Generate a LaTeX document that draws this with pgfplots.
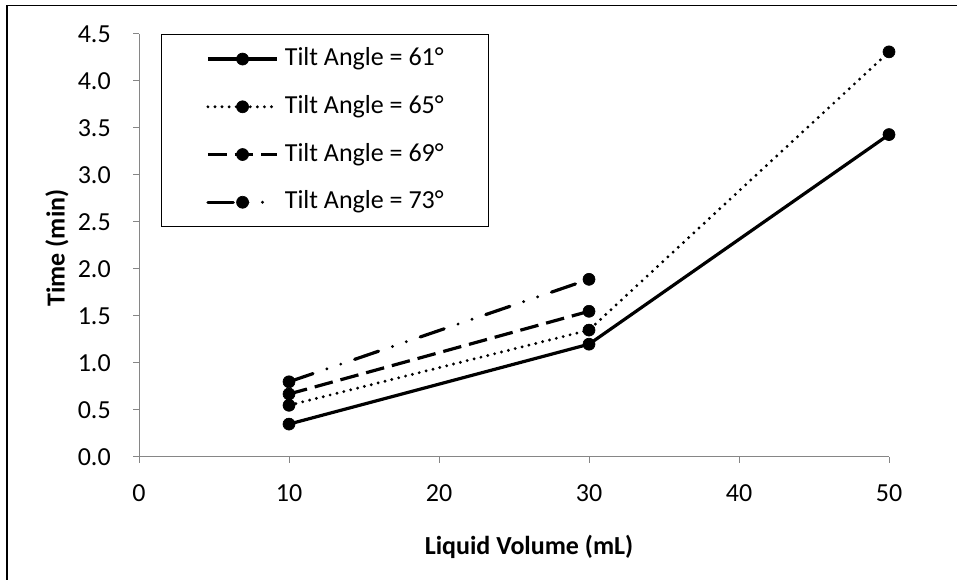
\documentclass[border=0pt]{standalone}
\usepackage{pgfplots}
\pgfplotsset{compat=1.18}
\usepackage{fontspec}
\setmainfont{Carlito}
\definecolor{axisgray}{HTML}{868686}
\newcommand{\fs}{\fontsize{19.5}{23}\selectfont}
\begin{document}
\fs
\begin{tikzpicture}[x=0.75pt,y=0.75pt]
\useasboundingbox (0,0) rectangle (957,580);
\fill[white] (0,0) rectangle (957,580);
\draw[line width=1.5pt] (7,0) -- (7,574.5);
\draw[line width=1pt] (6,574.5) -- (957,574.5);
\begin{axis}[
  at={(104.25pt,92.25pt)}, anchor=south west,
  scale only axis, width=562.5pt, height=317.25pt,
  xmin=0, xmax=50, ymin=0, ymax=4.5,
  axis x line=bottom, axis y line=left,
  axis line style={draw=axisgray, line width=0.75pt, -},
  tick style={draw=axisgray, line width=0.75pt},
  major tick length=4.5pt, tick align=outside,
  xtick={0,10,20,30,40,50},
  ytick={0,0.5,1,1.5,2,2.5,3,3.5,4,4.5},
  /pgf/number format/assume math mode=true,
  y tick label style={/pgf/number format/fixed, /pgf/number format/fixed zerofill, /pgf/number format/precision=1, xshift=-10pt},
  ticklabel style={font=\fs, text=black},
  x tick label style={yshift=-9.5pt},
  clip=false,
  legend style={at={(0.0293,1)}, anchor=north west, draw=black, line width=1pt,
    inner xsep=33.5pt, inner ysep=8.7pt, row sep=16.6pt, column sep=4.5pt,
    nodes={inner sep=0pt, text height=14.6pt, text depth=4.6pt},
    font=\fs},
  legend cell align=left,
  legend image code/.code={\draw[mark repeat=2,mark phase=2] plot coordinates {(0pt,0pt) (26pt,0pt) (52pt,0pt)};},
  myline/.style={black, solid, line width=2.4pt, mark=*, mark size=4.5pt, mark options={solid, fill=black, draw=black, line width=0.5pt}},
]
\addplot[myline] coordinates {(10,0.35) (30,1.20) (50,3.43)};
\addlegendentry{Tilt Angle = 61°\hspace{5pt}}
\addplot[myline, line cap=round, dash pattern=on 0pt off 5.3pt] coordinates {(10,0.55) (30,1.35) (50,4.31)};
\addlegendentry{Tilt Angle = 65°\hspace{5pt}}
\addplot[myline, dash pattern=on 14pt off 6pt] coordinates {(10,0.67) (30,1.55)};
\addlegendentry{Tilt Angle = 69°\hspace{5pt}}
\addplot[myline, line cap=round, dash pattern=on 19pt off 11pt on 0pt off 11pt on 0pt off 11pt] coordinates {(10,0.80) (30,1.89)};
\addlegendentry{Tilt Angle = 73°\hspace{5pt}}
\end{axis}
\node[font=\bfseries\fs] at (529,33) {Liquid Volume (mL)};
\node[font=\bfseries\fs, rotate=90] at (57,332) {Time (min)};
\end{tikzpicture}
\end{document}
